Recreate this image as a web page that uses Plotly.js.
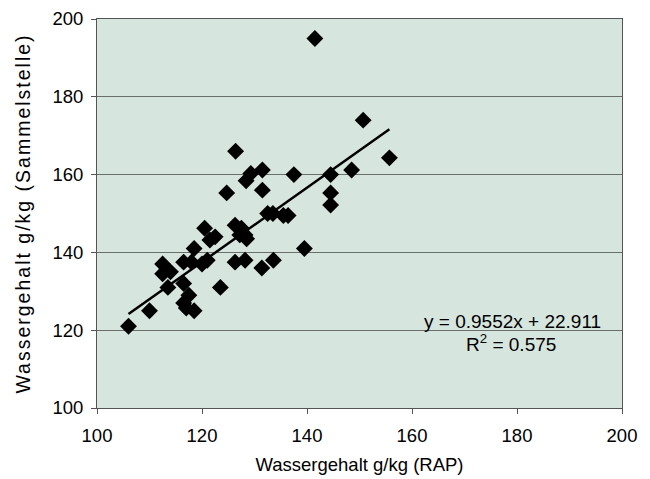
<!DOCTYPE html>
<html>
<head>
<meta charset="utf-8">
<script src="https://cdn.plot.ly/plotly-3.0.1.min.js"></script>
<style>html,body{margin:0;padding:0;background:#fff;}#chart{width:650px;height:479px;}#chart .ytitle{letter-spacing:2px;}</style>
</head>
<body>
<div id="chart"></div>
<script>
const rapX = [106, 110, 112.5, 112.5, 114, 113.5, 116.5, 118, 120, 121, 118.5, 116.5, 117.5, 116.5, 117, 118.5, 120.5, 121.5, 122.5, 123.5, 124.7, 126.4, 126.3, 127.5, 128.2, 127.2, 128.5, 126.3, 128.2, 128.4, 129.3, 131.5, 131.5, 131.4, 132.5, 133.5, 133.6, 135.5, 136.4, 137.5, 139.5, 141.5, 144.5, 144.5, 144.5, 148.5, 150.7, 155.7];
const sammelY = [121, 125, 137, 134.5, 135, 131, 137.5, 137.5, 137, 138, 141, 132, 129, 127, 125.7, 125, 146.2, 143.2, 144, 131, 155.3, 166, 147, 146.2, 144.5, 144.5, 143.5, 137.5, 138, 158.4, 160.3, 161.2, 156, 136, 150, 150, 138, 149.5, 149.5, 160, 141, 195, 160, 155.3, 152.2, 161.2, 174, 164.3];
const slope = 0.9552;
const intercept = 22.911;
const rSquared = 0.575;
const xTicks = [100, 120, 140, 160, 180, 200];
const yTicks = [100, 120, 140, 160, 180, 200];

const xmin = Math.min(...rapX), xmax = Math.max(...rapX);
const lineX = [xmin, xmax];
const lineY = lineX.map(v => slope * v + intercept);

const traces = [
  {x: rapX, y: sammelY, mode: 'markers', type: 'scatter',
   marker: {symbol: 'diamond', size: 13, color: '#000'}, hoverinfo: 'x+y'},
  {x: lineX, y: lineY, mode: 'lines', type: 'scatter',
   line: {color: '#000', width: 2.5}}
];

const fam = 'Liberation Sans, Arial, sans-serif';
const font = {family: fam, size: 18.5, color: '#000'};
const layout = {
  width: 650, height: 479,
  margin: {l: 97, r: 28, t: 19, b: 71},
  paper_bgcolor: '#fff',
  plot_bgcolor: '#d7e5df',
  showlegend: false,
  font: font,
  xaxis: {
    range: [100, 200], tickvals: xTicks, ticktext: xTicks.map(String),
    showgrid: false, zeroline: false,
    showline: true, linecolor: '#555', linewidth: 1, mirror: true,
    ticks: 'outside', ticklen: 5, tickcolor: '#555',
    ticklabelstandoff: 6,
    tickfont: font,
    title: {text: 'Wassergehalt g/kg (RAP)', font: font, standoff: 12}
  },
  yaxis: {
    range: [100, 200], tickvals: yTicks, ticktext: yTicks.map(String),
    showgrid: true, gridcolor: '#6a6f6c', gridwidth: 1,
    zeroline: false,
    showline: true, linecolor: '#555', linewidth: 1, mirror: true,
    ticks: 'outside', ticklen: 5, tickcolor: '#555',
    ticklabelstandoff: 4,
    tickfont: font,
    title: {text: 'Wassergehalt g/kg (Sammelstelle)', font: {family: fam, size: 19.5, color: '#000'}, standoff: 16}
  },
  annotations: [
    {x: 179.2, y: 122.2, xref: 'x', yref: 'y', xanchor: 'center', yanchor: 'middle', showarrow: false,
     text: 'y = ' + slope + 'x + ' + intercept, font: {family: fam, size: 19, color: '#000'}},
    {x: 178.8, y: 116.8, xref: 'x', yref: 'y', xanchor: 'center', yanchor: 'middle', showarrow: false,
     text: 'R<sup>2</sup> = ' + rSquared, font: {family: fam, size: 19, color: '#000'}}
  ]
};
Plotly.newPlot('chart', traces, layout, {displayModeBar: false, staticPlot: true});
</script>
</body>
</html>
